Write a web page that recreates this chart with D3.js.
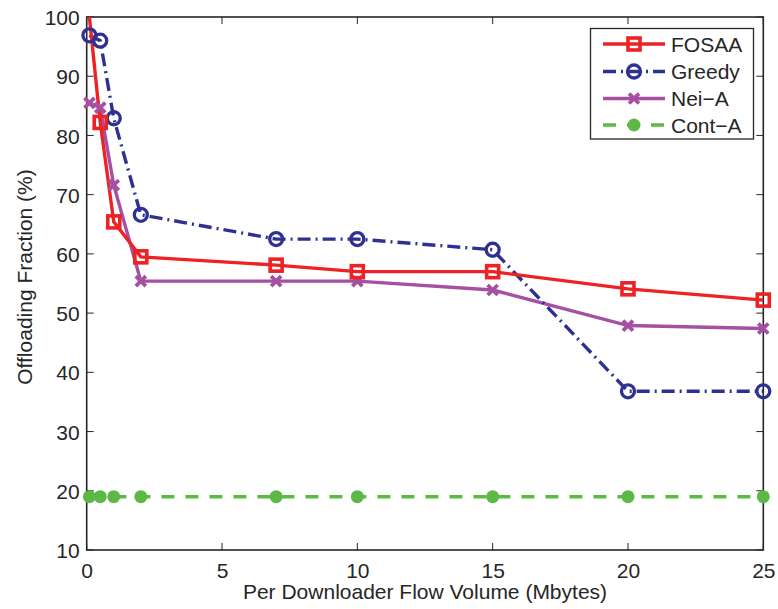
<!DOCTYPE html>
<html><head><meta charset="utf-8">
<script src="https://cdn.jsdelivr.net/npm/d3@7"></script>
<style>
body{margin:0;background:#fff;}
text{font-family:"Liberation Sans",Arial,sans-serif;fill:#262626;}
</style></head>
<body><svg id="chart" width="778" height="609"></svg>
<script>
const xValues = [0.1, 0.5, 1, 2, 7, 10, 15, 20, 25];
const fosaa  = [100, 82.2, 65.4, 59.5, 58.1, 57.0, 57.0, 54.1, 52.2];
const greedy = [96.9, 96.0, 82.9, 66.6, 62.5, 62.5, 60.7, 36.8, 36.8];
const neiA   = [85.5, 84.7, 71.6, 55.4, 55.4, 55.4, 53.9, 47.9, 47.4];
const contA  = [19.0, 19.0, 19.0, 19.0, 19.0, 19.0, 19.0, 19.0, 19.0];
const xTicks = [0, 5, 10, 15, 20, 25];
const yTicks = [10, 20, 30, 40, 50, 60, 70, 80, 90, 100];
const seriesNames = ["FOSAA", "Greedy", "Nei\u2212A", "Cont\u2212A"];

const svg = d3.select("#chart");
const L = 86.7, R = 763.3, T = 17, B = 550;
const x = d3.scaleLinear().domain([0, 25]).range([L, R]);
const y = d3.scaleLinear().domain([10, 100]).range([B, T]);
const axisColor = "#262626";

const series = [
  {name: seriesNames[0], vals: fosaa,  color: "#ED2224", dash: null,        marker: "square"},
  {name: seriesNames[1], vals: greedy, color: "#2E3192", dash: "13,5,2,5",  marker: "circle"},
  {name: seriesNames[2], vals: neiA,   color: "#A550A2", dash: null,        marker: "x"},
  {name: seriesNames[3], vals: contA,  color: "#5DB946", dash: "13,11",     marker: "dot"}
];

svg.append("defs").append("clipPath").attr("id","clip")
  .append("rect").attr("x", L).attr("y", T).attr("width", R - L).attr("height", B - T);

// axes
const fs = 21;
const gx = svg.append("g").attr("transform", `translate(0,${B})`)
  .call(d3.axisBottom(x).tickValues(xTicks).tickSize(0).tickPadding(12).tickFormat(d3.format("d")));
const gy = svg.append("g").attr("transform", `translate(${L},0)`)
  .call(d3.axisLeft(y).tickValues(yTicks).tickSize(0).tickPadding(7).tickFormat(d3.format("d")));
[gx, gy].forEach(g => {
  g.select(".domain").remove();
  g.selectAll("text").style("font-size", fs + "px").style("fill", axisColor)
    .style("font-family", '"Liberation Sans",Arial,sans-serif');
});
gy.selectAll("text").attr("dy", "0.36em");
gx.selectAll("text").attr("dy", "0.75em");

// inner ticks on all 4 sides
const tl = 7;
const tickG = svg.append("g").attr("stroke", axisColor).attr("stroke-width", 1);
xTicks.forEach(v => {
  tickG.append("line").attr("x1", x(v)).attr("x2", x(v)).attr("y1", B).attr("y2", B - tl);
  tickG.append("line").attr("x1", x(v)).attr("x2", x(v)).attr("y1", T).attr("y2", T + tl);
});
yTicks.forEach(v => {
  tickG.append("line").attr("x1", L).attr("x2", L + tl).attr("y1", y(v)).attr("y2", y(v));
  tickG.append("line").attr("x1", R).attr("x2", R - tl).attr("y1", y(v)).attr("y2", y(v));
});
svg.append("rect").attr("x", L).attr("y", T).attr("width", R - L).attr("height", B - T)
  .attr("fill", "none").attr("stroke", axisColor).attr("stroke-width", 1.6);

// labels
svg.append("text").attr("x", (L + R) / 2).attr("y", 599).attr("text-anchor", "middle")
  .style("font-size", fs + "px").text("Per Downloader Flow Volume (Mbytes)");
svg.append("text").attr("transform", `translate(32,277) rotate(-90)`)
  .attr("text-anchor", "middle").style("font-size", fs + "px").text("Offloading Fraction (%)");

function drawMarker(g, type, cx, cy, color) {
  if (type === "square") {
    g.append("rect").attr("x", cx - 6).attr("y", cy - 6).attr("width", 12).attr("height", 12)
      .attr("fill", "none").attr("stroke", color).attr("stroke-width", 3.6);
  } else if (type === "circle") {
    g.append("circle").attr("cx", cx).attr("cy", cy).attr("r", 6.5)
      .attr("fill", "none").attr("stroke", color).attr("stroke-width", 3.3);
  } else if (type === "x") {
    const s = 5;
    g.append("path").attr("d", `M${cx - s},${cy - s}L${cx + s},${cy + s}M${cx - s},${cy + s}L${cx + s},${cy - s}`)
      .attr("fill", "none").attr("stroke", color).attr("stroke-width", 3.8);
  } else {
    g.append("circle").attr("cx", cx).attr("cy", cy).attr("r", 6.5).attr("fill", color);
  }
}

const plot = svg.append("g").attr("clip-path", "url(#clip)");
const markG = svg.append("g");
const line = d3.line().x(d => x(d[0])).y(d => y(d[1]));
series.slice().reverse().forEach(s => {
  const pts = xValues.map((xv, i) => [xv, s.vals[i]]);
  plot.append("path").attr("d", line(pts)).attr("fill", "none")
    .attr("stroke", s.color).attr("stroke-width", 3.4)
    .attr("stroke-dasharray", s.dash);
  const mg = markG.append("g");
  // a point lying on the top border (100) is clipped away in the original
  pts.filter(p => p[1] < 100).forEach(p => drawMarker(mg, s.marker, x(p[0]), y(p[1]), s.color));
});

// legend
const lg = svg.append("g");
lg.append("rect").attr("x", 590.5).attr("y", 28.5).attr("width", 163).attr("height", 110.5)
  .attr("fill", "#fff").attr("stroke", axisColor).attr("stroke-width", 1.3);
const ly = [44, 71.5, 98.5, 125];
series.forEach((s, i) => {
  lg.append("line").attr("x1", 603).attr("x2", 665).attr("y1", ly[i]).attr("y2", ly[i])
    .attr("stroke", s.color).attr("stroke-width", 3.4).attr("stroke-dasharray", s.dash);
  drawMarker(lg, s.marker, 634, ly[i], s.color);
  lg.append("text").attr("x", 671).attr("y", ly[i]).attr("dy", "0.36em")
    .style("font-size", fs + "px").text(s.name);
});
</script></body></html>
